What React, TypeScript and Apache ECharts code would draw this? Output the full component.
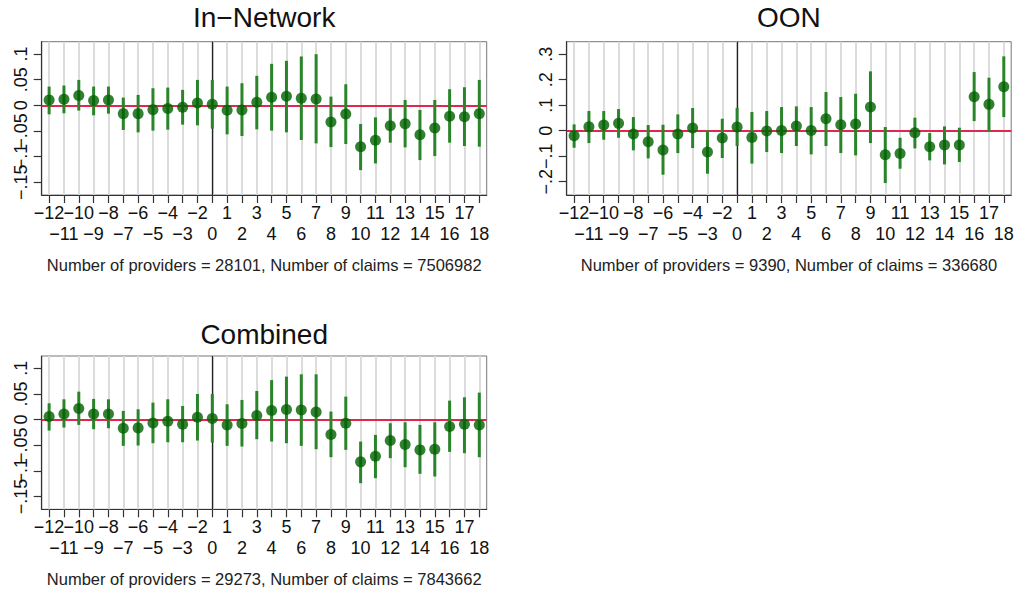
import React, { useEffect, useRef } from "react";
import * as echarts from "echarts";

// Event-time categories (period -1 is the omitted reference period)
const periods = [
  "-12", "-11", "-10", "-9", "-8", "-7", "-6", "-5", "-4", "-3", "-2",
  "0", "1", "2", "3", "4", "5", "6", "7", "8", "9", "10", "11", "12",
  "13", "14", "15", "16", "17", "18",
];

// In-Network
const inNetPoint = [0.0104, 0.0117, 0.0189, 0.0091, 0.0104, -0.0163, -0.0163, -0.0085, -0.0065, -0.0039, 0.0046, 0.002, -0.0098, -0.0091, 0.0059, 0.0156, 0.0176, 0.0137, 0.0124, -0.0326, -0.0169, -0.0808, -0.0684, -0.0398, -0.0359, -0.0574, -0.0443, -0.0215, -0.0222, -0.0163];
const inNetHigh = [0.0365, 0.0385, 0.0495, 0.0365, 0.0365, 0.015, 0.0202, 0.0332, 0.0345, 0.03, 0.0495, 0.0495, 0.0365, 0.043, 0.0574, 0.0808, 0.0867, 0.0952, 0.0997, 0.0169, 0.041, -0.0365, -0.0235, -0.0059, 0.0104, -0.0091, 0.0104, 0.0313, 0.0352, 0.0495];
const inNetLow = [-0.0176, -0.0156, -0.0104, -0.0196, -0.0163, -0.0482, -0.0528, -0.0495, -0.0476, -0.0378, -0.0391, -0.0456, -0.0567, -0.06, -0.0469, -0.0495, -0.0528, -0.0678, -0.0743, -0.0815, -0.0756, -0.1265, -0.1134, -0.073, -0.0821, -0.1069, -0.0991, -0.073, -0.0795, -0.0808];

// OON
const oonPoint = [-0.0196, 0.0157, 0.0222, 0.0288, -0.0131, -0.0431, -0.0758, -0.0131, 0.0105, -0.0837, -0.0288, 0.0144, -0.0261, -0.0013, 0.0013, 0.0183, 0.0013, 0.047, 0.0235, 0.0261, 0.0928, -0.0941, -0.0889, -0.0078, -0.0627, -0.0562, -0.0562, 0.1333, 0.1033, 0.1725];
const oonHigh = [0.0248, 0.0771, 0.0771, 0.085, 0.0536, 0.0222, 0.0235, 0.064, 0.0889, 0.0013, 0.047, 0.09, 0.0732, 0.0771, 0.0928, 0.0954, 0.0928, 0.1516, 0.132, 0.145, 0.2327, 0.0144, -0.0275, 0.051, -0.0092, 0.017, 0.0118, 0.23, 0.2078, 0.2915];
const oonLow = [-0.0667, -0.0484, -0.0353, -0.0275, -0.0771, -0.1085, -0.1725, -0.0876, -0.068, -0.1686, -0.1072, -0.06, -0.129, -0.0837, -0.0876, -0.06, -0.0928, -0.06, -0.0876, -0.0967, -0.0484, -0.2052, -0.149, -0.0693, -0.1163, -0.132, -0.1229, 0.0379, -0.0013, 0.0536];

// Combined
const combPoint = [0.0058, 0.011, 0.0214, 0.011, 0.011, -0.0169, -0.0162, -0.0065, -0.0032, -0.0091, 0.0045, 0.0019, -0.0104, -0.0078, 0.0078, 0.0175, 0.0195, 0.0188, 0.0149, -0.0292, -0.0071, -0.0825, -0.0714, -0.0409, -0.0487, -0.0591, -0.0578, -0.0136, -0.0091, -0.0104];
const combHigh = [0.0318, 0.0396, 0.0545, 0.0403, 0.0396, 0.0169, 0.0201, 0.0331, 0.0396, 0.0266, 0.05, 0.05, 0.0299, 0.0383, 0.0558, 0.077, 0.0838, 0.0883, 0.0883, 0.0156, 0.0448, -0.0429, -0.0299, -0.0071, -0.0052, -0.0104, -0.0052, 0.037, 0.0435, 0.0526];
const combLow = [-0.0214, -0.0156, -0.0104, -0.0188, -0.0169, -0.0513, -0.0506, -0.0461, -0.0442, -0.0442, -0.0409, -0.0448, -0.0513, -0.0526, -0.0383, -0.0429, -0.0461, -0.0513, -0.0578, -0.0734, -0.0591, -0.124, -0.1143, -0.0753, -0.0929, -0.1058, -0.111, -0.063, -0.0656, -0.0734];

// Y tick labels
const smallTicks = [-0.15, -0.1, -0.05, 0, 0.05, 0.1];
const oonTicks = [-0.2, -0.1, 0, 0.1, 0.2, 0.3];

const titles = ["In\u2212Network", "OON", "Combined"];
const notes = [
  "Number of providers = 28101, Number of claims = 7506982",
  "Number of providers = 9390, Number of claims = 336680",
  "Number of providers = 29273, Number of claims = 7843662",
];

const FONT = "'Liberation Sans', Arial, Helvetica, sans-serif";

const panels = [
  { point: inNetPoint, low: inNetLow, high: inNetHigh, ticks: smallTicks, min: -0.175, max: 0.124, left: 41.7, top: 41.7, width: 445, height: 153.3, titleOff: 24 },
  { point: oonPoint, low: oonLow, high: oonHigh, ticks: oonTicks, min: -0.252, max: 0.349, left: 566.7, top: 41.7, width: 444.5, height: 153.3, titleOff: 24 },
  { point: combPoint, low: combLow, high: combHigh, ticks: smallTicks, min: -0.175, max: 0.124, left: 41.7, top: 356, width: 445, height: 153.3, titleOff: 22 },
];

const fmtY = (v: number) => {
  if (Math.abs(v) < 1e-9) return "0";
  const s = String(Math.round(Math.abs(v) * 1000) / 1000).replace(/^0/, "");
  return (v < 0 ? "\u2212" : "") + s;
};

export default function App() {
  const ref = useRef<HTMLDivElement>(null);
  useEffect(() => {
    document.body.style.margin = "0";
    if (!ref.current) return;
    const chart = echarts.init(ref.current, null, { renderer: "svg" });

    const grid: any[] = [];
    const xAxis: any[] = [];
    const yAxis: any[] = [];
    const series: any[] = [];
    const graphic: any[] = [];

    const yLabel = {
      rotate: 90, fontSize: 18, color: "#111", fontFamily: FONT, margin: 12,
      hideOverlap: false, formatter: fmtY,
    };

    panels.forEach((p, k) => {
      const evenTicks = p.ticks.filter((_, i) => i % 2 === 0);
      const oddTicks = p.ticks.filter((_, i) => i % 2 === 1);
      grid.push({
        left: p.left, top: p.top, width: p.width, height: p.height,
        show: true, borderColor: "#777", borderWidth: 1, backgroundColor: "transparent",
      });
      xAxis.push({
        type: "category", gridIndex: k, data: periods, boundaryGap: true,
        axisLine: { show: true, onZero: false, lineStyle: { color: "#333", width: 1.2 } },
        axisTick: { show: true, alignWithLabel: true, interval: 0, length: 8, lineStyle: { color: "#333", width: 1.2 } },
        axisLabel: {
          interval: 0, fontSize: 18, lineHeight: 21, color: "#111", fontFamily: FONT, margin: 7,
          formatter: (v: string, i: number) => (i % 2 === 1 ? "\n" : "") + v.replace("-", "\u2212"),
        },
        splitLine: { show: false },
      });
      // main value axis (ticks at every label value, labels at alternate values)
      yAxis.push({
        type: "value", gridIndex: k, min: p.min, max: p.max, position: "left",
        axisLine: { show: true, onZero: false, lineStyle: { color: "#333", width: 1.2 } },
        axisTick: { show: true, length: 8, customValues: p.ticks.slice(), lineStyle: { color: "#333", width: 1.2 } },
        axisLabel: { ...yLabel, customValues: evenTicks },
        splitLine: { show: false },
      });
      // companion axis carrying the other (overlapping) labels
      yAxis.push({
        type: "value", gridIndex: k, min: p.min, max: p.max, position: "left", offset: 0,
        axisLine: { show: false },
        axisTick: { show: false },
        axisLabel: { ...yLabel, customValues: oddTicks },
        splitLine: { show: false },
      });
      const yi = 2 * k;
      series.push({
        type: "line", xAxisIndex: k, yAxisIndex: yi, data: p.point, symbol: "none",
        lineStyle: { opacity: 0 }, silent: true, z: 1,
        markLine: {
          z: 1, silent: true, symbol: "none", label: { show: false },
          lineStyle: { color: "#dcdcdc", width: 2, type: "solid" },
          data: periods.map((c) => ({ xAxis: c })),
        },
      });
      series.push({
        type: "line", xAxisIndex: k, yAxisIndex: yi, data: p.point, symbol: "none",
        lineStyle: { opacity: 0 }, silent: true, z: 2,
        markLine: {
          z: 2, silent: true, symbol: "none", label: { show: false },
          data: [
            { xAxis: "0", lineStyle: { color: "#222", width: 1.3, type: "solid" } },
            { yAxis: 0, lineStyle: { color: "#e0284f", width: 2, type: "solid" } },
          ],
        },
      });
      series.push({
        type: "custom", xAxisIndex: k, yAxisIndex: yi, z: 3, silent: true,
        data: periods.map((_, i) => [i, p.low[i], p.high[i]]),
        renderItem: (_params: any, api: any) => {
          const a = api.coord([api.value(0), api.value(1)]);
          const b = api.coord([api.value(0), api.value(2)]);
          return {
            type: "line",
            shape: { x1: a[0], y1: a[1], x2: b[0], y2: b[1] },
            style: { stroke: "#2a852a", lineWidth: 3 },
          };
        },
      });
      series.push({
        type: "scatter", xAxisIndex: k, yAxisIndex: yi, z: 4, silent: true,
        data: p.point, symbol: "circle", symbolSize: 11,
        itemStyle: { color: "#006000" },
      });
      const cx = p.left + p.width / 2;
      graphic.push({
        type: "text", x: cx, y: p.top - p.titleOff, silent: true,
        style: { text: titles[k], fontSize: 28, fontFamily: FONT, fill: "#111", align: "center", verticalAlign: "middle" },
      });
      graphic.push({
        type: "text", x: cx, y: p.top + p.height + 70, silent: true,
        style: { text: notes[k], fontSize: 16.5, fontFamily: FONT, fill: "#222", align: "center", verticalAlign: "middle" },
      });
    });

    chart.setOption({
      animation: false,
      backgroundColor: "#ffffff",
      grid, xAxis, yAxis, series, graphic,
    });
    return () => chart.dispose();
  }, []);
  return <div ref={ref} style={{ width: 1021, height: 591 }} />;
}
